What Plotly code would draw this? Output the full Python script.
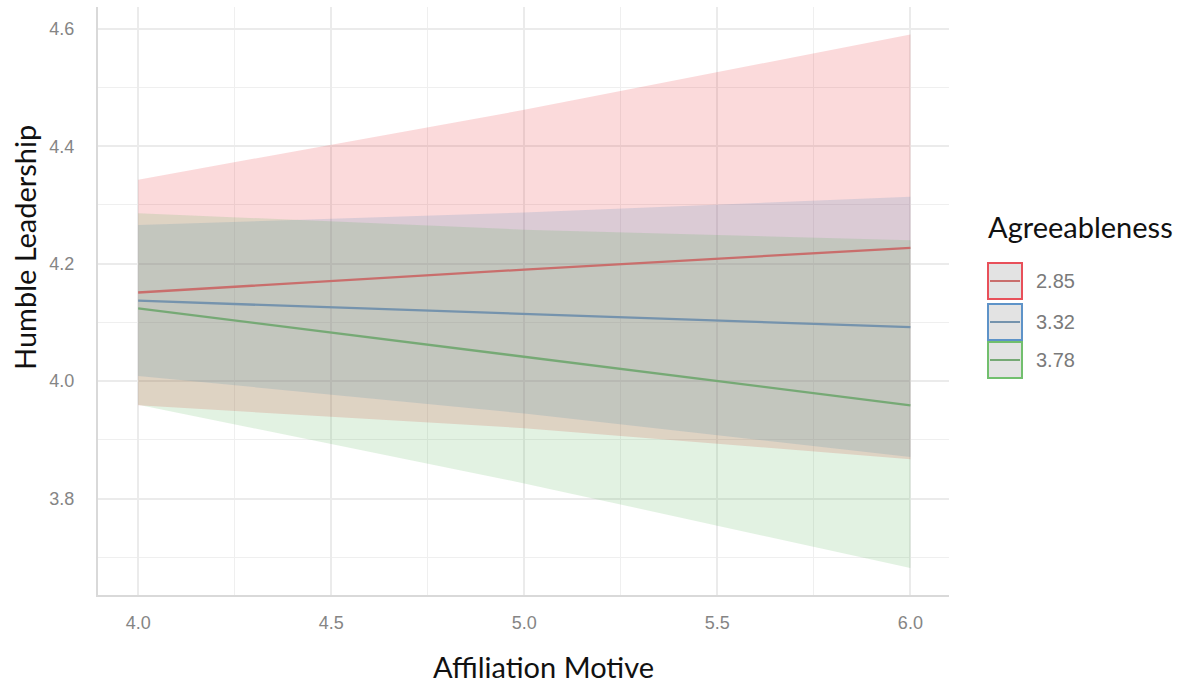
import plotly.graph_objects as go

# ---- data ----
x_vals = [4.0, 5.0, 6.0]
groups = ["2.85", "3.32", "3.78"]
fit = {
    "2.85": [4.151, 4.190, 4.227],
    "3.32": [4.137, 4.114, 4.092],
    "3.78": [4.124, 4.042, 3.959],
}
upper = {
    "2.85": [4.343, 4.462, 4.590],
    "3.32": [4.266, 4.287, 4.314],
    "3.78": [4.286, 4.258, 4.240],
}
lower = {
    "2.85": [3.959, 3.920, 3.867],
    "3.32": [4.009, 3.945, 3.871],
    "3.78": [3.960, 3.826, 3.682],
}
x_ticks = [4.0, 4.5, 5.0, 5.5, 6.0]
y_ticks = [3.8, 4.0, 4.2, 4.4, 4.6]

# ---- styles ----
base_rgb = {"2.85": (228, 26, 28), "3.32": (55, 126, 184), "3.78": (77, 175, 74)}
line_col = {"2.85": "#c96e6c", "3.32": "#7593ad", "3.78": "#76a975"}
border_col = {"2.85": "#e8505a", "3.32": "#5e93c8", "3.78": "#72bf6e"}

W, H = 1187, 684
L, R, T, B = 98, 238, 7, 89
PW, PH = W - L - R, H - T - B

def px(xp):
    return (xp - L) / PW

def py(yp):
    return (H - B - yp) / PH

fig = go.Figure()

for g in groups:
    r, gg, b = base_rgb[g]
    fig.add_trace(go.Scatter(
        x=x_vals + x_vals[::-1],
        y=upper[g] + lower[g][::-1],
        fill="toself",
        fillcolor=f"rgba({r},{gg},{b},0.16)",
        line=dict(width=0),
        mode="lines",
        hoverinfo="skip",
        showlegend=False,
    ))

for g in groups:
    fig.add_trace(go.Scatter(
        x=x_vals, y=fit[g], mode="lines",
        line=dict(color=line_col[g], width=2.3),
        name=g, showlegend=False,
    ))

# manual legend
shapes = []
annotations = []
box_top = [263, 304, 342]
for i, g in enumerate(groups):
    y0p, y1p = box_top[i], box_top[i] + 36
    shapes.append(dict(type="rect", xref="paper", yref="paper",
                       x0=px(988), x1=px(1022), y0=py(y1p), y1=py(y0p),
                       fillcolor="#e3e3e3", line=dict(color=border_col[g], width=2)))
    ym = (y0p + y1p) / 2
    shapes.append(dict(type="line", xref="paper", yref="paper",
                       x0=px(990), x1=px(1020), y0=py(ym), y1=py(ym),
                       line=dict(color=line_col[g], width=2)))
    annotations.append(dict(text=g, xref="paper", yref="paper",
                            x=px(1034), y=py(ym), xanchor="left", yanchor="middle",
                            showarrow=False,
                            font=dict(family="Liberation Sans", size=20, color="#7a7a7a")))

title_font = dict(family="Lato", size=29, color="#111111")
annotations.append(dict(text="Agreeableness", xref="paper", yref="paper",
                        x=px(986), y=py(226), xanchor="left", yanchor="middle",
                        showarrow=False, font=title_font))
annotations.append(dict(text="Affiliation Motive", xref="paper", yref="paper",
                        x=px(543), y=py(666), xanchor="center", yanchor="middle",
                        showarrow=False, font=title_font))
annotations.append(dict(text="Humble Leadership", xref="paper", yref="paper",
                        x=px(25), y=py(248), xanchor="center", yanchor="middle",
                        textangle=-90, showarrow=False, font=title_font))

tick_font = dict(family="Liberation Sans", size=18, color="#858585")

fig.update_layout(
    width=W, height=H,
    margin=dict(l=L, r=R, t=T, b=B),
    paper_bgcolor="white", plot_bgcolor="white",
    showlegend=False,
    shapes=shapes, annotations=annotations,
    xaxis=dict(range=[3.896, 6.1], tickvals=x_ticks, ticktext=[f"{v:.1f}" for v in x_ticks],
               showgrid=True, gridcolor="#ebebeb", gridwidth=1.5,
               minor=dict(dtick=0.25, tick0=4.0, showgrid=True, gridcolor="#efefef", gridwidth=1),
               showline=True, linecolor="#d9d9d9", linewidth=2, zeroline=False,
               ticks="outside", ticklen=10, tickcolor="rgba(0,0,0,0)", tickfont=tick_font),
    yaxis=dict(range=[3.636, 4.637], tickvals=y_ticks, ticktext=[f"{v:.1f}" for v in y_ticks],
               showgrid=True, gridcolor="#ebebeb", gridwidth=1.5,
               minor=dict(dtick=0.1, tick0=3.7, showgrid=True, gridcolor="#efefef", gridwidth=1),
               showline=True, linecolor="#d9d9d9", linewidth=2, zeroline=False,
               ticks="outside", ticklen=18, tickcolor="rgba(0,0,0,0)", tickfont=tick_font),
)

fig.write_html("out.html")
